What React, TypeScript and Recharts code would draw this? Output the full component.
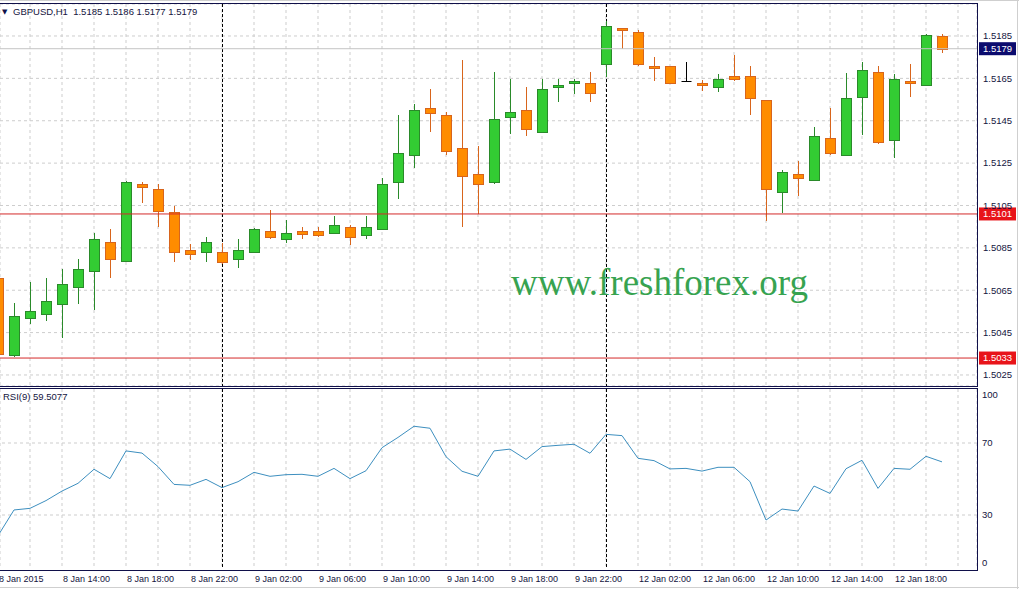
import React from 'react';
import { ComposedChart, Bar, Line, XAxis, YAxis, CartesianGrid, ReferenceLine } from 'recharts';

const symbol = 'GBPUSD,H1';
const rsiName = 'RSI(9)';

// one label every 4 bars, starting at bar 0 (8 Jan 10:00)
const timeLabels = [
  '8 Jan 2015', '8 Jan 14:00', '8 Jan 18:00', '8 Jan 22:00',
  '9 Jan 02:00', '9 Jan 06:00', '9 Jan 10:00', '9 Jan 14:00', '9 Jan 18:00', '9 Jan 22:00',
  '12 Jan 02:00', '12 Jan 06:00', '12 Jan 10:00', '12 Jan 14:00', '12 Jan 18:00',
];

const opens = [
  1.50708, 1.50345, 1.50520, 1.50539, 1.50586, 1.50666, 1.50742, 1.50878, 1.50789, 1.51152,
  1.51128, 1.51020, 1.50841, 1.50831, 1.50831, 1.50798, 1.50831, 1.50930, 1.50892, 1.50930,
  1.50930, 1.50921, 1.50949, 1.50911, 1.50940, 1.51161, 1.51289, 1.51510, 1.51477, 1.51322,
  1.51199, 1.51161, 1.51468, 1.51501, 1.51397, 1.51609, 1.51628, 1.51628, 1.51718, 1.51888,
  1.51869, 1.51708, 1.51708, 1.51638, 1.51628, 1.51609, 1.51661, 1.51661, 1.51548, 1.51114,
  1.51199, 1.51171, 1.51369, 1.51289, 1.51562, 1.51680, 1.51359, 1.51638, 1.51619, 1.51850,
];
const highs = [
  1.50712, 1.50591, 1.50690, 1.50708, 1.50751, 1.50798, 1.50921, 1.50940, 1.51165, 1.51161,
  1.51152, 1.51048, 1.50869, 1.50902, 1.50874, 1.50892, 1.50945, 1.51029, 1.50982, 1.50949,
  1.50949, 1.51001, 1.50958, 1.51001, 1.51180, 1.51477, 1.51529, 1.51600, 1.51492, 1.51737,
  1.51331, 1.51680, 1.51647, 1.51609, 1.51647, 1.51647, 1.51647, 1.51680, 1.51921, 1.51890,
  1.51878, 1.51751, 1.51710, 1.51727, 1.51642, 1.51671, 1.51760, 1.51708, 1.51550, 1.51218,
  1.51260, 1.51421, 1.51510, 1.51675, 1.51727, 1.51708, 1.51671, 1.51718, 1.51860, 1.51860,
];
const lows = [
  1.50336, 1.50336, 1.50492, 1.50506, 1.50425, 1.50586, 1.50558, 1.50708, 1.50785, 1.51062,
  1.50949, 1.50784, 1.50793, 1.50784, 1.50775, 1.50756, 1.50826, 1.50892, 1.50874, 1.50892,
  1.50902, 1.50916, 1.50864, 1.50892, 1.50935, 1.51081, 1.51227, 1.51397, 1.51289, 1.50949,
  1.51010, 1.51152, 1.51388, 1.51378, 1.51392, 1.51539, 1.51576, 1.51539, 1.51657, 1.51789,
  1.51708, 1.51638, 1.51625, 1.51636, 1.51591, 1.51586, 1.51638, 1.51477, 1.50977, 1.51015,
  1.51095, 1.51166, 1.51289, 1.51284, 1.51383, 1.51341, 1.51275, 1.51562, 1.51614, 1.51770,
];
const closes = [
  1.50350, 1.50529, 1.50553, 1.50600, 1.50680, 1.50751, 1.50892, 1.50798, 1.51161, 1.51138,
  1.51025, 1.50831, 1.50822, 1.50878, 1.50784, 1.50841, 1.50940, 1.50902, 1.50921, 1.50916,
  1.50911, 1.50958, 1.50902, 1.50949, 1.51152, 1.51298, 1.51501, 1.51487, 1.51308, 1.51190,
  1.51152, 1.51458, 1.51492, 1.51411, 1.51600, 1.51619, 1.51638, 1.51581, 1.51897, 1.51878,
  1.51718, 1.51699, 1.51628, 1.51638, 1.51619, 1.51647, 1.51647, 1.51558, 1.51128, 1.51208,
  1.51180, 1.51378, 1.51298, 1.51558, 1.51690, 1.51350, 1.51647, 1.51628, 1.51855, 1.51790,
];
const rsi = [
  18.5, 32.8, 33.7, 38.0, 43.3, 47.6, 55.4, 50.2, 65.6, 64.4,
  56.9, 47.0, 46.5, 49.8, 45.2, 48.5, 53.7, 51.5, 52.4, 52.6,
  51.5, 55.9, 50.2, 54.6, 67.4, 73.1, 79.3, 78.2, 62.4, 54.3,
  51.5, 65.6, 66.6, 60.9, 68.0, 68.7, 69.3, 64.3, 74.8, 74.1,
  61.5, 60.2, 55.6, 55.9, 54.4, 56.5, 56.5, 48.5, 27.2, 33.3,
  32.2, 46.1, 42.0, 55.7, 60.4, 44.8, 55.9, 55.4, 62.6, 59.5077,
];

const priceTicks = [1.5185, 1.5165, 1.5145, 1.5125, 1.5105, 1.5085, 1.5065, 1.5045, 1.5025];
const supportLevels = [1.5101, 1.5033];
const rsiTicks = [0, 30, 70, 100];
const rsiLevels = [30, 70];
const daySeparators = [14, 38]; // bars at 9 Jan 00:00 and 12 Jan 00:00

const W = 1019;
const MAIN_H = 388;
const RSI_H = 201;
const AXIS_W = 42;
const X_DOMAIN: [number, number] = [0.125, 61.1875];
const PRICE_DOMAIN: [number, number] = [1.50198, 1.52001];
const gridTicks = Array.from({ length: 31 }, (_, k) => k * 2);

const FONT = "'Liberation Sans', Arial, sans-serif";
const INK = '#141440';
const NAVY = '#10104a';
const GRID = '#cdcdcd';

const data = opens.map((open, i) => ({
  i,
  open,
  high: highs[i],
  low: lows[i],
  close: closes[i],
  range: [lows[i], highs[i]],
  rsi: rsi[i],
}));
const last = data[data.length - 1];

// day separators live in the grid layer so the candles stay on top of them
const separatorCoords = ({ xAxis, offset }: any) => {
  const sc = xAxis?.scale;
  return daySeparators.map((s) => {
    let px: number | undefined;
    if (typeof sc === 'function') px = sc(s);
    else if (sc && typeof sc.map === 'function') px = sc.map(s);
    if (px == null || Number.isNaN(px)) {
      px = offset.left + ((s - X_DOMAIN[0]) / (X_DOMAIN[1] - X_DOMAIN[0])) * offset.width;
    }
    return Math.round(px) + 0.5;
  });
};

function Candle(props: any) {
  const { x, y, width, height, payload } = props;
  if (!payload || height == null) return null;
  const { open, close, high, low } = payload;
  const cx = Math.round(x + width / 2) + 0.5;
  const k = height / (high - low);
  const yo = y + (high - open) * k;
  const yc = y + (high - close) * k;
  const top = Math.round(Math.min(yo, yc));
  const bottom = Math.round(Math.max(yo, yc));
  if (open === close) {
    return (
      <g>
        <line x1={cx} x2={cx} y1={Math.round(y)} y2={Math.round(y + height)} stroke="#000" />
        <line x1={cx - 5} x2={cx + 5} y1={top + 0.5} y2={top + 0.5} stroke="#000" />
      </g>
    );
  }
  const up = close > open;
  const fill = up ? '#33cc33' : '#ff8c00';
  const edge = up ? '#2a8a2a' : '#d8651c';
  return (
    <g>
      <line x1={cx} x2={cx} y1={Math.round(y)} y2={Math.round(y + height)} stroke={edge} />
      <rect x={cx - 5} y={top + 0.5} width={10} height={Math.max(bottom - top, 1)} fill={fill} stroke={edge} />
    </g>
  );
}

const priceTag = (bg: string, value: number) => (props: any) => {
  const vb = props.viewBox;
  if (!vb) return null;
  const x = vb.x + vb.width + 2;
  return (
    <g>
      <rect x={x} y={vb.y - 6.5} width={37} height={13} fill={bg} />
      <text x={x + 4} y={vb.y} dy="0.355em" fill="#fff" fontSize={9.5} fontFamily={FONT}>
        {value.toFixed(4)}
      </text>
    </g>
  );
};

function TimeTick({ x, y, payload }: any) {
  const idx = payload.value;
  if (idx % 4 !== 0) return null;
  const label = timeLabels[idx / 4];
  if (!label) return null;
  return (
    <text x={x + 1} y={y} dy="0.71em" fontSize={9} fill={INK} fontFamily={FONT}>
      {label}
    </text>
  );
}

function RsiTick({ x, y, payload }: any) {
  const v = payload.value;
  const shift = v === 100 ? 6 : v === 0 ? -6 : 0;
  return (
    <text x={x} y={y + shift} dy="0.355em" fontSize={9.5} fill={INK} fontFamily={FONT}>
      {v}
    </text>
  );
}

function MainChart() {
  return (
    <ComposedChart width={W} height={MAIN_H} data={data} margin={{ top: 4, right: 0, bottom: 2, left: 0 }}>
      <CartesianGrid stroke={GRID} strokeDasharray="3 3" />
      <CartesianGrid
        horizontal={false}
        stroke="#000"
        strokeDasharray="3 2"
        verticalCoordinatesGenerator={separatorCoords}
      />
      <XAxis type="number" dataKey="i" domain={X_DOMAIN} allowDataOverflow ticks={gridTicks} interval={0} hide />
      <YAxis
        orientation="right"
        width={AXIS_W}
        type="number"
        domain={PRICE_DOMAIN}
        allowDataOverflow
        ticks={priceTicks}
        interval={0}
        tickFormatter={(v: number) => v.toFixed(4)}
        tick={{ fontSize: 9.5, fill: INK, fontFamily: FONT }}
        tickLine={false}
        axisLine={false}
        tickSize={0}
        tickMargin={6}
      />
      <ReferenceLine y={last.close} stroke="#c4c4c4" label={priceTag('#0b0b6e', last.close)} />
      {supportLevels.map((lv) => (
        <ReferenceLine key={lv} y={lv} stroke="#d42a2a" label={priceTag('#e8141a', lv)} />
      ))}
      <Bar dataKey="range" barSize={10} shape={(p: any) => <Candle {...p} />} isAnimationActive={false} />
    </ComposedChart>
  );
}

function RsiChart() {
  return (
    <ComposedChart width={W} height={RSI_H} data={data} margin={{ top: 1, right: 0, bottom: 0, left: 0 }}>
      <CartesianGrid horizontal={false} stroke={GRID} strokeDasharray="3 3" />
      <CartesianGrid
        horizontal={false}
        stroke="#000"
        strokeDasharray="3 2"
        verticalCoordinatesGenerator={separatorCoords}
      />
      <XAxis
        type="number"
        dataKey="i"
        domain={X_DOMAIN}
        allowDataOverflow
        ticks={gridTicks}
        interval={0}
        height={20}
        tick={<TimeTick />}
        tickLine={false}
        axisLine={false}
        tickSize={0}
        tickMargin={7}
      />
      <YAxis
        orientation="right"
        width={AXIS_W}
        type="number"
        domain={[0, 100]}
        ticks={rsiTicks}
        interval={0}
        tick={<RsiTick />}
        tickLine={false}
        axisLine={false}
        tickSize={0}
        tickMargin={5}
      />
      {rsiLevels.map((v) => (
        <ReferenceLine key={v} y={v} stroke={GRID} strokeDasharray="3 3" />
      ))}
      <Line type="linear" dataKey="rsi" stroke="#3d8fbf" strokeWidth={1} dot={false} isAnimationActive={false} />
    </ComposedChart>
  );
}

const hLine = (top: number, width: number, color: string) => (
  <div style={{ position: 'absolute', left: 0, top, width, height: 1, background: color }} />
);
const vLine = (left: number, top: number, height: number, color: string) => (
  <div style={{ position: 'absolute', left, top, width: 1, height, background: color }} />
);

export default function App() {
  const plotRight = W - AXIS_W;
  return (
    <div
      style={{
        position: 'absolute',
        left: 0,
        top: 0,
        width: W,
        height: 589,
        background: '#fff',
        overflow: 'hidden',
        fontFamily: FONT,
      }}
    >
      <div style={{ position: 'absolute', left: 0, top: 0 }}>
        <MainChart />
      </div>
      <div style={{ position: 'absolute', left: 0, top: MAIN_H }}>
        <RsiChart />
      </div>

      {/* window frame */}
      {hLine(0, W, '#cfcfcf')}
      {hLine(587, W, '#cfcfcf')}
      {vLine(1017, 0, 589, '#cfcfcf')}
      {hLine(3, plotRight + 1, NAVY)}
      {hLine(386, plotRight + 1, NAVY)}
      {hLine(388, plotRight + 1, NAVY)}
      {hLine(570, plotRight + 1, NAVY)}
      {vLine(plotRight, 3, 384, NAVY)}
      {vLine(plotRight, 388, 183, NAVY)}

      <div style={{ position: 'absolute', left: 2, top: 6, fontSize: 7, lineHeight: '12px', color: NAVY, fontFamily: "'DejaVu Sans', sans-serif" }}>▼</div>
      <div style={{ position: 'absolute', left: 13, top: 6, fontSize: 9.5, lineHeight: '12px', color: INK, whiteSpace: 'pre' }}>
        {`${symbol}  ${last.open.toFixed(4)} ${last.high.toFixed(4)} ${last.low.toFixed(4)} ${last.close.toFixed(4)}`}
      </div>
      <div style={{ position: 'absolute', left: 3, top: 391, fontSize: 9.5, lineHeight: '12px', color: INK, whiteSpace: 'pre' }}>
        {`${rsiName} ${last.rsi}`}
      </div>
      <div
        style={{
          position: 'absolute',
          left: 511,
          top: 264,
          fontSize: 37,
          lineHeight: 1,
          color: '#37a350',
          fontFamily: "'Liberation Serif', 'Times New Roman', serif",
          whiteSpace: 'nowrap',
        }}
      >
        www.freshforex.org
      </div>
    </div>
  );
}
